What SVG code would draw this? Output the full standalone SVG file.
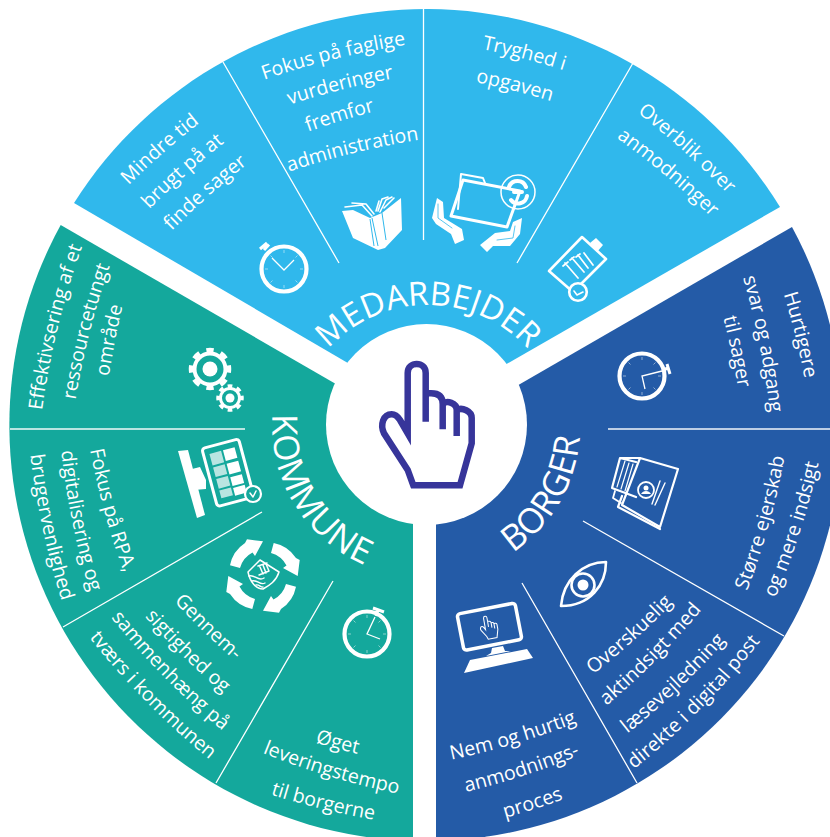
<svg xmlns="http://www.w3.org/2000/svg" width="830" height="837" viewBox="0 0 830 837">
<style>
text{font-family:"Open Sans","Noto Sans",sans-serif;fill:#fff;font-size:19.6px;text-anchor:middle}
.t{font-size:35px}
.l{stroke:#fff;stroke-width:1.3;fill:none}
.lt{stroke:#fff;stroke-opacity:.7;stroke-width:2;fill:none}
.o{fill:none;stroke:#fff;stroke-linejoin:round;stroke-linecap:round}
.f{fill:#fff;stroke:none}
</style>
<defs>
<g id="watch"><circle r="22.5" fill="none" stroke="#fff" stroke-width="4.2"/><path d="M0,-19V-16M0,19V16M-19,0H-16M19,0H16M-13.5,-13.5L-11.5,-11.5M13.5,-13.5L11.5,-11.5M-13.5,13.5L-11.5,11.5M13.5,13.5L11.5,11.5" stroke="#fff" stroke-width=".7" opacity=".7"/></g>
<path id="hand" d="M413.3,485.3L407.7,470L384,433.3C380,425 383,414.3 391.7,414.3C396,414.3 398,417 400,420L407.7,433.3V373C407.7,361 425.7,361 425.7,373V393.3H431C438,393.3 442.7,396 442.700,404C447,400 456.7,403 456.700,410C462,407 471.7,411 471.7,418V443.3L460,485.3ZM425.7,393.3V421.7M442.7,404V429.3M456.7,410V436" fill="none" stroke-linejoin="miter"/>
<path id="arrow" d="M10.7,-33A34.7,34.7 0 0 1 33,-18L36.7,-16L34.7,0L20,-8L23.500,-10.500A25,25 0 0 0 8,-23Z" fill="#fff"/>
</defs>

<g id="medarbejder">
<path d="M74,203A416,416 0 0 1 780,207L427.5,409.5L74,203Z" fill="#30B8EC"/>
<path id="pm" d="M293,440A135,135 0 0 1 563,440" fill="none"/>
<text class="t" style="font-size:33px"><textPath href="#pm" startOffset="50%">MEDARBEJDER</textPath></text>
<path id="a1" d="M115,199A800,800 0 0 1 215,111" fill="none"/><text><textPath href="#a1" startOffset="50%">Mindre tid</textPath></text>
<path id="a2" d="M135,224A800,800 0 0 1 241,130" fill="none"/><text><textPath href="#a2" startOffset="50%">brugt på at</textPath></text>
<path id="a3" d="M158,245A800,800 0 0 1 263,152" fill="none"/><text><textPath href="#a3" startOffset="50%">finde sager</textPath></text>
<path id="a4" d="M244,87A800,800 0 0 1 427,42" fill="none"/><text><textPath href="#a4" startOffset="50%">Fokus på faglige</textPath></text>
<path id="a5" d="M271,111A800,800 0 0 1 413,75" fill="none"/><text><textPath href="#a5" startOffset="50%">vurderinger</textPath></text>
<path id="a6" d="M291,138A800,800 0 0 1 392,107" fill="none"/><text><textPath href="#a6" startOffset="50%">fremfor</textPath></text>
<path id="a7" d="M271,178A800,800 0 0 1 438,137" fill="none"/><text><textPath href="#a7" startOffset="50%">administration</textPath></text>
<path id="a8" d="M461,45A800,800 0 0 1 584,77" fill="none"/><text><textPath href="#a8" startOffset="50%">Tryghed i</textPath></text>
<path id="a9" d="M454,78A800,800 0 0 1 572,108" fill="none"/><text><textPath href="#a9" startOffset="50%">opgaven</textPath></text>
<path id="a10" d="M623,102A800,800 0 0 1 740,207" fill="none"/><text><textPath href="#a10" startOffset="50%">Overblik over</textPath></text>
<path id="a11" d="M598,125A800,800 0 0 1 727,233" fill="none"/><text><textPath href="#a11" startOffset="50%">anmodninger</textPath></text>
<use href="#watch" transform="translate(284,269)"/>
<path d="M264,250L269,244.500M260,249L267,243" stroke="#fff" stroke-width="3"/>
<path d="M272,258L284,270L294,260" class="l" stroke-width=".9"/>
<path class="f" d="M342,211L353,238L378,250L385,248L402,230L401,198L382,213L370,218L353,210Z"/>
<path d="M370,219L374,246M372,218L378,246M382,213L386,240" stroke="#30B8EC" stroke-width="1"/>
<path class="o" stroke-width="1.6" d="M345,207L362,205L372,216M352,203L366,204L374,214M380,212L386,200L392,197M378,211L382,199L388,197M376,211L379,201M384,208L394,198"/>
<path class="o" stroke-width="3" d="M463,180L520,191L507,227L451,216Z"/>
<path class="o" stroke-width="2" d="M458,209L461,174L483,178L485,183"/>
<circle cx="518" cy="192" r="17" fill="none" stroke="#fff" stroke-width="1.5"/>
<path class="o" stroke-width="4" d="M509,187A9,9 0 0 1 526,187M527,196A9,9 0 0 1 511,200M514,192H522"/>
<path class="f" d="M437,198L443,202L444,218L462,229L464,240L455,244L451,234L436,224L432,218Z"/>
<path class="f" d="M480,245L487,252L493,246L510,246L520,234L522,218L513,222L510,231L495,233Z"/>
<path class="o" stroke-width=".8" style="stroke:#30B8EC" d="M438,204L438,218L452,228M515,226L513,238L497,240"/>
<path class="o" stroke-width="2.6" d="M582,237L606,259L573,292L549,271Z"/>
<path class="f" d="M590,243L596,238L603,245L597,252Z"/>
<path class="o" stroke-width="1.700" d="M565,263L578,278M572,258L584,272M578,255L588,268M584,253L593,265M563,266L568,262M570,260L574,257M576,257L580,254"/>
<circle cx="578" cy="292" r="8.800" fill="#30B8EC" stroke="#fff" stroke-width="2.600"/>
<path class="o" stroke-width="1.6" d="M574,291L577,295L583,292"/>
</g>

<g id="kommune">
<path d="M60.700,225A416,416 0 0 0 413,841V428.600Z" fill="#14A89C"/>
<path id="pk" d="M274,402A153,153 0 0 0 377,570" fill="none"/>
<text class="t" style="letter-spacing:1px"><textPath href="#pk" startOffset="50%">KOMMUNE</textPath></text>
<path id="b1" d="M40,427A800,800 0 0 1 88,231" fill="none"/><text><textPath href="#b1" startOffset="50%">Effektivsering af et</textPath></text>
<path id="b2" d="M72,424A800,800 0 0 1 118,243" fill="none"/><text><textPath href="#b2" startOffset="50%">ressourcetungt</textPath></text>
<path id="b3" d="M106,398A800,800 0 0 1 128,285" fill="none"/><text><textPath href="#b3" startOffset="50%">område</textPath></text>
<path id="b4" d="M87,433A800,800 0 0 0 130,589" fill="none"/><text><textPath href="#b4" startOffset="50%">Fokus på RPA,</textPath></text>
<path id="b5" d="M59,427A800,800 0 0 0 97,615" fill="none"/><text><textPath href="#b5" startOffset="50%">digitalisering og</textPath></text>
<path id="b6" d="M28,432A800,800 0 0 0 69,623" fill="none"/><text><textPath href="#b6" startOffset="50%">brugervenlighed</textPath></text>
<path id="b7" d="M163,589A800,800 0 0 0 247,671" fill="none"/><text><textPath href="#b7" startOffset="50%">Gennem-</textPath></text>
<path id="b8" d="M129,598A800,800 0 0 0 242,709" fill="none"/><text><textPath href="#b8" startOffset="50%">sigtighed og</textPath></text>
<path id="b9" d="M98,601A800,800 0 0 0 239,744" fill="none"/><text><textPath href="#b9" startOffset="50%">sammenhæng på</textPath></text>
<path id="b10" d="M78,623A800,800 0 0 0 224,771" fill="none"/><text><textPath href="#b10" startOffset="50%">tværs i kommunen</textPath></text>
<path id="b11" d="M297,737A800,800 0 0 0 376,758" fill="none"/><text><textPath href="#b11" startOffset="50%">Øget</textPath></text>
<path id="b12" d="M241,744A800,800 0 0 0 421,798" fill="none"/><text><textPath href="#b12" startOffset="50%">leveringstempo</textPath></text>
<path id="b13" d="M251,788A800,800 0 0 0 394,823" fill="none"/><text><textPath href="#b13" startOffset="50%">til borgerne</textPath></text>
<g id="gears">
<circle cx="210" cy="369" r="15.500" fill="none" stroke="#fff" stroke-width="4"/>
<circle cx="210" cy="369" r="19" fill="none" stroke="#fff" stroke-width="4.500" pathLength="80" stroke-dasharray="5 5" stroke-dashoffset="2.500"/>
<circle cx="210" cy="369" r="7.500" fill="#fff"/>
<circle cx="230" cy="398" r="9.500" fill="none" stroke="#fff" stroke-width="3"/>
<circle cx="230" cy="398" r="12" fill="none" stroke="#fff" stroke-width="3.500" pathLength="80" stroke-dasharray="5 5" stroke-dashoffset="2.500"/>
<circle cx="230" cy="398" r="4.500" fill="#fff"/>
</g>
<g transform="translate(227,473) rotate(-15)">
<rect x="-18" y="-30" width="38" height="60" rx="3" fill="none" stroke="#fff" stroke-width="3"/>
<path d="M-12,-23h12v12h-12zM-12,-9h12v10h-12zM-12,3h12v10h-12zM-12,15h12v8h-12z" fill="#fff" opacity=".7"/>
<path d="M2,-23h12v11h-12zM2,-9h12v11h-12zM2,5h12v9h-12zM2,16h12v8h-12z" fill="#fff"/>
</g>
<path class="f" d="M178,451L188,450L205,515L197,518Z"/>
<path class="f" d="M188,470L200,467L206,480L206,489L194,490L192,480Z"/>
<circle cx="253" cy="494" r="8" fill="#14A89C" stroke="#fff" stroke-width="2.200"/>
<path class="o" stroke-width="1.500" d="M250,493L253,497L256,491"/>
<use href="#arrow" transform="translate(263,576)"/>
<use href="#arrow" transform="translate(263,576) rotate(90)"/>
<use href="#arrow" transform="translate(263,576) rotate(180)"/>
<use href="#arrow" transform="translate(263,576) rotate(270)"/>
<path class="o" stroke-width="1.500" d="M248,572L260,560L279,572C276,582 268,586 263,589C256,589 250,582 248,572Z"/>
<path class="o" stroke-width="1.400" d="M249,576C255,574 258,582 264,578M252,581C257,579 260,586 265,583M256,585C259,584 261,588 263,587"/>
<path class="o" stroke-width="1.500" d="M258,566L267,563M259,575L269,571M260,567L263,574M263,565L266,573M266,564L269,571"/>
<use href="#watch" transform="translate(367,634)"/>
<path d="M373,608L384,612M378,610L376,616" stroke="#fff" stroke-width="3"/>
<path d="M375,617L367,634L380,639" class="l" stroke-width=".9"/>
</g>

<g id="borger">
<path d="M792,227A416,416 0 0 1 436,841V432.500Z" fill="#245BA7"/>
<path id="pb" d="M499,561A153,153 0 0 0 580,421" fill="none"/>
<text class="t"><textPath href="#pb" startOffset="50%">BORGER</textPath></text>
<path id="c1" d="M778,276A800,800 0 0 1 808,397" fill="none"/><text><textPath href="#c1" startOffset="50%">Hurtigere</textPath></text>
<path id="c2" d="M737,258A800,800 0 0 1 772,433" fill="none"/><text><textPath href="#c2" startOffset="50%">svar og adgang</textPath></text>
<path id="c3" d="M718,298A800,800 0 0 1 741,408" fill="none"/><text><textPath href="#c3" startOffset="50%">til sager</textPath></text>
<path id="c4" d="M740,609A800,800 0 0 0 788,438" fill="none"/><text><textPath href="#c4" startOffset="50%">Større ejerskab</textPath></text>
<path id="c5" d="M767,617A800,800 0 0 0 823,443" fill="none"/><text><textPath href="#c5" startOffset="50%">og mere indsigt</textPath></text>
<path id="c6" d="M578,686A800,800 0 0 0 686,589" fill="none"/><text><textPath href="#c6" startOffset="50%">Overskuelig</textPath></text>
<path id="c7" d="M593,717A800,800 0 0 0 713,596" fill="none"/><text><textPath href="#c7" startOffset="50%">aktindsigt med</textPath></text>
<path id="c8" d="M610,747A800,800 0 0 0 740,624" fill="none"/><text><textPath href="#c8" startOffset="50%">læsevejledning</textPath></text>
<path id="c9" d="M619,781A800,800 0 0 0 772,626" fill="none"/><text><textPath href="#c9" startOffset="50%">direkte i digital post</textPath></text>
<path id="c10" d="M429,764A800,800 0 0 0 598,714" fill="none"/><text><textPath href="#c10" startOffset="50%">Nem og hurtig</textPath></text>
<path id="c11" d="M444,797A800,800 0 0 0 601,746" fill="none"/><text><textPath href="#c11" startOffset="50%">anmodnings-</textPath></text>
<path id="c12" d="M486,823A800,800 0 0 0 582,792" fill="none"/><text><textPath href="#c12" startOffset="50%">proces</textPath></text>
<use href="#watch" transform="translate(642,376)"/>
<path d="M667,364L670,374M668,368L663,370" stroke="#fff" stroke-width="3"/>
<path d="M662,371L642,376L645,389" class="l" stroke-width=".9"/>
<path class="o" stroke-width="2.200" d="M640,458L678,469L660,527L622,505L640,458Z"/>
<path class="o" stroke-width="2.200" d="M622,496L618,507L660,529M640,458L620,458M620,458L612,488L636,497M620,458L636,462"/>
<path class="o" stroke-width="1.200" d="M625,461L617,487M629,463L621,489M633,464L625,491"/>
<path class="o" stroke-width="1.800" d="M615,491L613,498L621,503"/>
<circle cx="646" cy="490" r="8" fill="none" stroke="#fff" stroke-width="1.800"/>
<circle cx="646" cy="488" r="2.500" fill="#fff"/><path class="f" d="M641,494C643,490 649,490 651,494Z"/>
<path class="o" stroke-width="1.400" d="M665,483L655,505M660,481L652,504"/>
<path class="o" stroke-width="2.600" d="M561,606C563,580 583,562 606,562C606,585 590,606 561,606Z"/>
<circle cx="583" cy="585" r="11.500" fill="none" stroke="#fff" stroke-width="2.600"/>
<circle cx="583" cy="585" r="5.500" fill="#fff"/>
<rect x="460" y="608.500" width="59" height="37" rx="3" transform="rotate(-11 488 627)" fill="none" stroke="#fff" stroke-width="3.500"/>
<use href="#hand" stroke="#fff" stroke-width="5.500" transform="translate(489,627) rotate(-10) scale(.19) translate(-428,-423)"/>
<path class="f" d="M492,648L503,646L505,651L511,651L486,656L491,653Z"/>
<path class="f" d="M470,660L527,649L533,658L464,673Z"/>
</g>

<g id="dividers">
<path class="l" d="M223,62L339,263M423.500,9V240M633,63L517,263"/>
<path class="lt" d="M10,429H245M608,429H830"/>
<path class="l" d="M262,512L63,627M333,581L216,783M583,521L784,636M522,583L637,783"/>
</g>

<g id="centre">
<circle cx="426.500" cy="424.500" r="100.500" fill="#fff"/>
<use href="#hand" stroke="#37359A" stroke-width="6.500"/>
</g>
</svg>
